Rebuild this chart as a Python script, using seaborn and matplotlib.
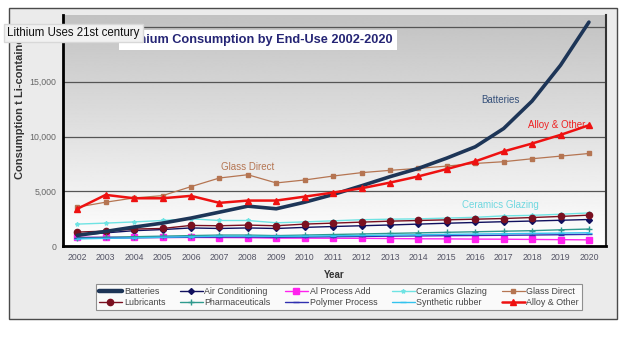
import numpy as np
import pandas as pd
import matplotlib
matplotlib.use("Agg")
import matplotlib.pyplot as plt
from matplotlib.patches import Rectangle
from matplotlib.lines import Line2D
import seaborn as sns

years = list(range(2002, 2021))

batteries = [970, 1330, 1730, 2090, 2550, 3090, 3640, 3400, 4000, 4700, 5500, 6330, 7090, 8030, 9060, 10730, 13240, 16510, 20450]
air_conditioning = [1000, 1200, 1400, 1500, 1650, 1600, 1650, 1600, 1700, 1780, 1850, 1920, 2000, 2080, 2150, 2220, 2280, 2350, 2420]
al_process_add = [800, 800, 790, 780, 780, 770, 760, 720, 720, 710, 700, 680, 660, 650, 630, 620, 600, 580, 560]
ceramics_glazing = [2000, 2090, 2200, 2330, 2480, 2330, 2330, 2120, 2200, 2300, 2400, 2450, 2480, 2550, 2620, 2750, 2800, 2900, 3020]
glass_direct = [3550, 4000, 4390, 4600, 5420, 6210, 6510, 5760, 6030, 6390, 6700, 6910, 7090, 7300, 7540, 7700, 7970, 8210, 8450]
lubricants = [1270, 1360, 1550, 1600, 1880, 1850, 1910, 1850, 2000, 2090, 2180, 2270, 2330, 2390, 2450, 2510, 2600, 2700, 2820]
pharmaceuticals = [750, 800, 850, 900, 950, 1000, 1000, 950, 1000, 1050, 1100, 1150, 1200, 1250, 1300, 1350, 1400, 1480, 1550]
polymer_process = [700, 720, 750, 780, 800, 820, 830, 800, 820, 850, 870, 900, 920, 940, 960, 980, 1000, 1030, 1060]
synthetic_rubber = [650, 700, 750, 800, 850, 900, 900, 880, 900, 930, 960, 1000, 1030, 1060, 1090, 1120, 1150, 1180, 1210]
alloy_other = [3390, 4670, 4360, 4360, 4580, 3940, 4150, 4150, 4510, 4880, 5270, 5790, 6360, 7030, 7730, 8640, 9360, 10150, 11030]

series = [
    ("Batteries", batteries, dict(color="#1d3557", lw=2.6, marker=None, ms=0)),
    ("Air Conditioning", air_conditioning, dict(color="#10105e", lw=1.0, marker="D", ms=3)),
    ("Al Process Add", al_process_add, dict(color="#ff22ee", lw=1.0, marker="s", ms=4)),
    ("Ceramics Glazing", ceramics_glazing, dict(color="#6fe3e3", lw=1.0, marker="*", ms=3)),
    ("Glass Direct", glass_direct, dict(color="#b57552", lw=0.9, marker="s", ms=3)),
    ("Lubricants", lubricants, dict(color="#7a1020", lw=1.0, marker="o", ms=4.5)),
    ("Pharmaceuticals", pharmaceuticals, dict(color="#2e9a8e", lw=1.0, marker="+", ms=5)),
    ("Polymer Process", polymer_process, dict(color="#3030b0", lw=1.0, marker="_", ms=5)),
    ("Synthetic rubber", synthetic_rubber, dict(color="#33c3ee", lw=1.0, marker="_", ms=5)),
    ("Alloy & Other", alloy_other, dict(color="#ee1111", lw=1.8, marker="^", ms=4.5)),
]

sns.set_theme(style="white")
plt.rcParams['font.family'] = ['Liberation Sans', 'DejaVu Sans']

fig = plt.figure(figsize=(6.22, 3.37), dpi=100)
fig.patch.set_facecolor("white")
frame = Rectangle((9/622, 18/337), 608/622, 311/337, transform=fig.transFigure,
                  facecolor="#ebebeb", edgecolor="#4a4a4a", lw=1.0, zorder=-10)
fig.patches.append(frame)

ax = fig.add_axes([63/622, 91/337, 543/622, 231/337])
ax.set_zorder(1)
ax.set_facecolor("white")
grad = np.linspace(0.76, 1.0, 256).reshape(-1, 1)
ax.imshow(grad, extent=[0, 1, 0, 1], transform=ax.transAxes, cmap="gray", vmin=0, vmax=1,
          aspect="auto", zorder=0, origin="upper")

for name, vals, st in series:
    df = pd.DataFrame({"Year": years, "Value": vals})
    sns.lineplot(data=df, x="Year", y="Value", ax=ax, color=st["color"], lw=st["lw"],
                 marker=st["marker"], markersize=st["ms"], markeredgecolor=st["color"],
                 markeredgewidth=1.0, zorder=3 if name not in ("Batteries", "Alloy & Other") else 4)

ax.set_xlim(2001.5, 2020.6)
ax.set_ylim(0, 21100)
ax.set_xticks(years)
ax.set_xticklabels([str(y) for y in years], fontsize=6.3, color="#555566")
ax.set_yticks([0, 5000, 10000, 15000, 20000])
ax.set_yticklabels(["0", "5,000", "10,000", "15,000", "20,000"], fontsize=6.3, color="#666666")
for yv in [5000, 10000, 15000, 20000]:
    ax.axhline(yv, color="#555555", lw=0.9, zorder=1)
ax.tick_params(axis="both", length=2, width=0.8, colors="#444444", pad=3, direction="out")
ax.tick_params(axis="x", labelcolor="#555566")
ax.tick_params(axis="y", labelcolor="#666666")
ax.set_xlabel("Year", fontsize=7, fontweight="bold", color="#333333", labelpad=6)
ax.set_ylabel("Consumption t Li-contained", fontsize=8, fontweight="bold", color="#333333", labelpad=10)
ax.yaxis.set_label_coords(-0.07, 0.61)
for s in ["left", "bottom"]:
    ax.spines[s].set_color("black")
    ax.spines[s].set_linewidth(2.0)
ax.spines["right"].set_color("#333333")
ax.spines["right"].set_linewidth(1.5)
ax.spines["top"].set_visible(False)
if ax.get_legend():
    ax.get_legend().remove()

ax.text(2008.0, 6950, "Glass Direct", fontsize=7, color="#b57552", ha="center")
ax.text(2016.9, 13050, "Batteries", fontsize=7, color="#35507a", ha="center")
ax.text(2018.85, 10750, "Alloy & Other", fontsize=7, color="#ee2222", ha="center")
ax.text(2016.9, 3500, "Ceramics Glazing", fontsize=7, color="#6fd8e0", ha="center")

t1 = fig.text(258/622, 1 - 40/337, "Lithium Consumption by End-Use 2002-2020", fontsize=9.2,
              fontweight="bold", color="#252575", ha="center", va="center",
              bbox=dict(facecolor="white", edgecolor="none", boxstyle="square,pad=0.35"))
t1.set_zorder(5)

t2 = fig.text(7/622, 1 - 33/337, "Lithium Uses 21st century", fontsize=8.3, color="#111111",
              ha="left", va="center",
              bbox=dict(facecolor="#f1f1f1", edgecolor="#d8d8d8", boxstyle="square,pad=0.3"))
t2.set_zorder(6)

order = ["Batteries", "Lubricants", "Air Conditioning", "Pharmaceuticals", "Al Process Add",
         "Polymer Process", "Ceramics Glazing", "Synthetic rubber", "Glass Direct", "Alloy & Other"]
style = {n: st for n, _, st in series}
handles = [Line2D([0], [0], color=style[n]["color"], lw=style[n]["lw"] + (0.6 if n == "Batteries" else 0),
                  marker=style[n]["marker"], markersize=style[n]["ms"], markeredgecolor=style[n]["color"])
           for n in order]
leg = fig.legend(handles, order, loc="center", bbox_to_anchor=(339/622, 1 - 297/337), ncol=5,
                 fontsize=6.4, frameon=True, fancybox=False, edgecolor="#777777", facecolor="white",
                 handlelength=2.6, handletextpad=0.2, columnspacing=1.6, labelspacing=0.3,
                 borderpad=0.35, labelcolor="#444444")
leg.get_frame().set_linewidth(0.8)
leg.set_zorder(5)

fig.savefig("out.png", dpi=100)
